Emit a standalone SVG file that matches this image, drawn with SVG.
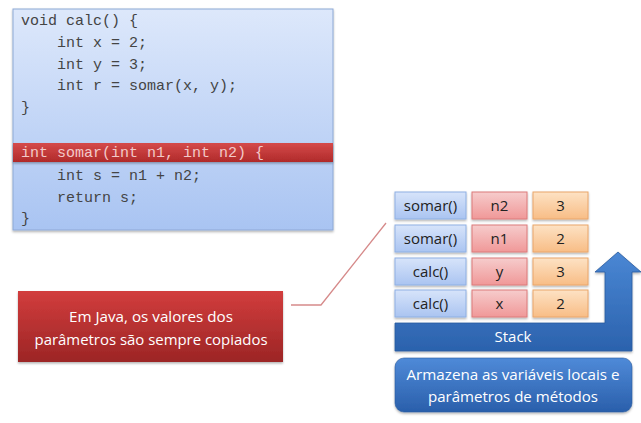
<svg xmlns="http://www.w3.org/2000/svg" width="641" height="423" viewBox="0 0 641 423">
<defs>
<linearGradient id="gCode" x1="0" y1="0" x2="0" y2="1"><stop offset="0" stop-color="#dde8fb"/><stop offset="1" stop-color="#a9c4f2"/></linearGradient>
<linearGradient id="gRedBar" x1="0" y1="0" x2="0" y2="1"><stop offset="0" stop-color="#d54a4a"/><stop offset="1" stop-color="#b02a2a"/></linearGradient>
<linearGradient id="gNote" x1="0" y1="0" x2="0" y2="1"><stop offset="0" stop-color="#d23d3d"/><stop offset="1" stop-color="#9c2525"/></linearGradient>
<linearGradient id="gB" x1="0" y1="0" x2="0" y2="1"><stop offset="0" stop-color="#d7e4fa"/><stop offset="1" stop-color="#aac4f1"/></linearGradient>
<linearGradient id="gR" x1="0" y1="0" x2="0" y2="1"><stop offset="0" stop-color="#f6cccc"/><stop offset="1" stop-color="#f09898"/></linearGradient>
<linearGradient id="gO" x1="0" y1="0" x2="0" y2="1"><stop offset="0" stop-color="#fde2c4"/><stop offset="1" stop-color="#f8bd86"/></linearGradient>
<linearGradient id="gStack" x1="0" y1="0" x2="0" y2="1"><stop offset="0" stop-color="#4a87d4"/><stop offset="1" stop-color="#2b62ad"/></linearGradient>
<linearGradient id="gInfo" x1="0" y1="0" x2="0" y2="1"><stop offset="0" stop-color="#4f8ad8"/><stop offset="1" stop-color="#2a5fab"/></linearGradient>
<filter id="sh" x="-10%" y="-10%" width="120%" height="130%"><feDropShadow dx="0" dy="1.5" stdDeviation="1.2" flood-color="#000" flood-opacity="0.3"/></filter>
</defs>
<style>
.code{font-family:"Liberation Mono","DejaVu Sans Mono",monospace;font-size:15px;fill:#444}
.lbl{font-family:"Open Sans","Liberation Sans",sans-serif;font-size:15px;text-anchor:middle;fill:#222}
.wt{font-family:"Open Sans","Liberation Sans",sans-serif;text-anchor:middle;fill:#fff}
.cb{fill:url(#gB);stroke:#8fb0e3;stroke-width:1}
.cr{fill:url(#gR);stroke:#dc7b7b;stroke-width:1}
.co{fill:url(#gO);stroke:#eaa66a;stroke-width:1}
</style>

<g id="code">
<rect x="13" y="9" width="320" height="221" fill="url(#gCode)" stroke="#8ea9d6" stroke-width="1" filter="url(#sh)"/>
<rect x="13" y="143" width="320" height="19" fill="url(#gRedBar)" filter="url(#sh)"/>
<text class="code" x="21" y="25" xml:space="preserve">void calc() {</text>
<text class="code" x="21" y="47" xml:space="preserve">    int x = 2;</text>
<text class="code" x="21" y="69" xml:space="preserve">    int y = 3;</text>
<text class="code" x="21" y="90" xml:space="preserve">    int r = somar(x, y);</text>
<text class="code" x="21" y="112" xml:space="preserve">}</text>
<text class="code" x="21" y="157" xml:space="preserve" style="fill:#f3c9c9">int somar(int n1, int n2) {</text>
<text class="code" x="21" y="180" xml:space="preserve">    int s = n1 + n2;</text>
<text class="code" x="21" y="202" xml:space="preserve">    return s;</text>
<text class="code" x="21" y="223" xml:space="preserve">}</text>
</g>

<g id="connectors">
<polyline points="291,305 321,305 386,223" fill="none" stroke="#d68a8a" stroke-width="1.3"/>
</g>

<g id="note">
<rect x="18" y="291" width="265" height="71" fill="url(#gNote)" filter="url(#sh)"/>
<text class="wt" x="151" y="322" font-size="15" textLength="164" lengthAdjust="spacingAndGlyphs">Em Java, os valores dos</text>
<text class="wt" x="151" y="345" font-size="15" textLength="233" lengthAdjust="spacingAndGlyphs">parâmetros são sempre copiados</text>
</g>

<g id="row1">
<rect class="cb" x="395" y="192" width="71" height="27" filter="url(#sh)"/><text class="lbl" x="430.5" y="211">somar()</text>
<rect class="cr" x="472" y="192" width="55" height="27" filter="url(#sh)"/><text class="lbl" x="499.5" y="211">n2</text>
<rect class="co" x="533" y="192" width="55" height="27" filter="url(#sh)"/><text class="lbl" x="560.5" y="211">3</text>
</g>
<g id="row2">
<rect class="cb" x="395" y="225" width="71" height="27" filter="url(#sh)"/><text class="lbl" x="430.5" y="244">somar()</text>
<rect class="cr" x="472" y="225" width="55" height="27" filter="url(#sh)"/><text class="lbl" x="499.5" y="244">n1</text>
<rect class="co" x="533" y="225" width="55" height="27" filter="url(#sh)"/><text class="lbl" x="560.5" y="244">2</text>
</g>
<g id="row3">
<rect class="cb" x="395" y="258" width="71" height="27" filter="url(#sh)"/><text class="lbl" x="430.5" y="277">calc()</text>
<rect class="cr" x="472" y="258" width="55" height="27" filter="url(#sh)"/><text class="lbl" x="499.5" y="277">y</text>
<rect class="co" x="533" y="258" width="55" height="27" filter="url(#sh)"/><text class="lbl" x="560.5" y="277">3</text>
</g>
<g id="row4">
<rect class="cb" x="395" y="290" width="71" height="27" filter="url(#sh)"/><text class="lbl" x="430.5" y="309">calc()</text>
<rect class="cr" x="472" y="290" width="55" height="27" filter="url(#sh)"/><text class="lbl" x="499.5" y="309">x</text>
<rect class="co" x="533" y="290" width="55" height="27" filter="url(#sh)"/><text class="lbl" x="560.5" y="309">2</text>
</g>

<g id="stack">
<path d="M395,323 L605,323 L605,272 L595,272 L618,252 L641,272 L632,272 L632,351 L395,351 Z" fill="url(#gStack)" stroke="#2a5a9e" stroke-width="0.8" filter="url(#sh)"/>
<text class="wt" x="513" y="342" font-size="15">Stack</text>
</g>

<g id="info">
<rect x="395" y="358" width="237" height="54" rx="9" fill="url(#gInfo)" stroke="#2a5a9e" stroke-width="0.6" filter="url(#sh)"/>
<text class="wt" x="513" y="380" font-size="15" textLength="213" lengthAdjust="spacingAndGlyphs">Armazena as variáveis locais e</text>
<text class="wt" x="513" y="402" font-size="15" textLength="170" lengthAdjust="spacingAndGlyphs">parâmetros de métodos</text>
</g>
</svg>
